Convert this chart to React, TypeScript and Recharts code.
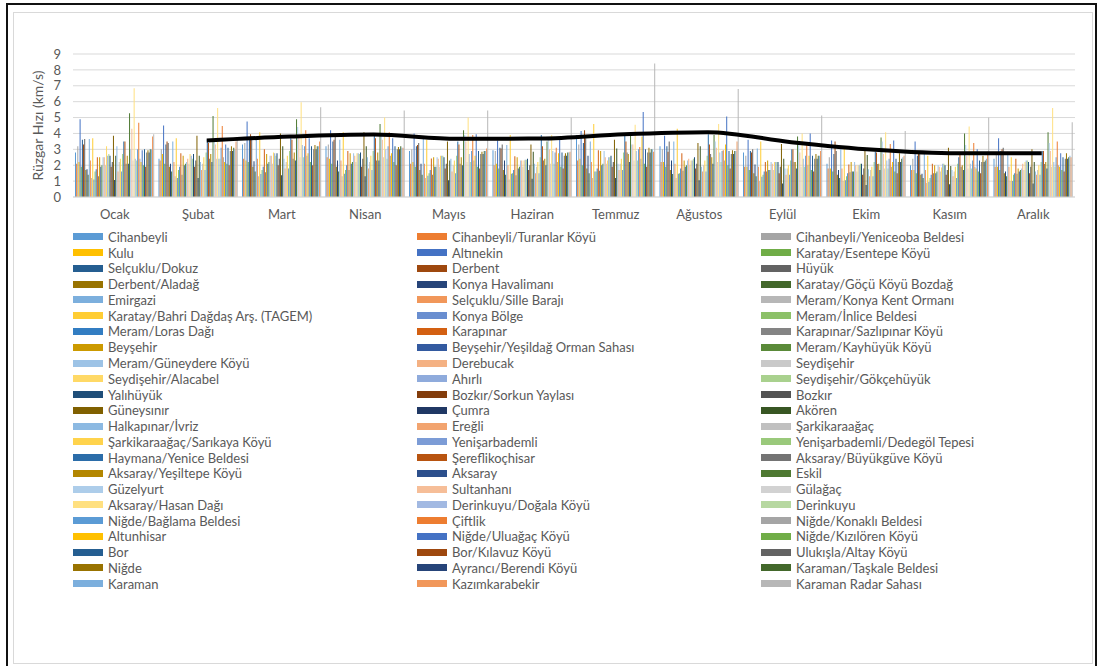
import { ComposedChart, Bar, Line, XAxis, YAxis, CartesianGrid, Legend, Label } from "recharts";

const FONT = "Lato, 'Open Sans', sans-serif";
const TEXT = "#595959";

const months = ["Ocak", "Şubat", "Mart", "Nisan", "Mayıs", "Haziran", "Temmuz", "Ağustos", "Eylül", "Ekim", "Kasım", "Aralık"];
const yTicks = [0, 1, 2, 3, 4, 5, 6, 7, 8, 9];

// station order = legend order (row by row, three per row)
const stations = [
  "Cihanbeyli", "Cihanbeyli/Turanlar Köyü", "Cihanbeyli/Yeniceoba Beldesi",
  "Kulu", "Altınekin", "Karatay/Esentepe Köyü",
  "Selçuklu/Dokuz", "Derbent", "Hüyük",
  "Derbent/Aladağ", "Konya Havalimanı", "Karatay/Göçü Köyü Bozdağ",
  "Emirgazi", "Selçuklu/Sille Barajı", "Meram/Konya Kent Ormanı",
  "Karatay/Bahri Dağdaş Arş. (TAGEM)", "Konya Bölge", "Meram/İnlice Beldesi",
  "Meram/Loras Dağı", "Karapınar", "Karapınar/Sazlıpınar Köyü",
  "Beyşehir", "Beyşehir/Yeşildağ Orman Sahası", "Meram/Kayhüyük Köyü",
  "Meram/Güneydere Köyü", "Derebucak", "Seydişehir",
  "Seydişehir/Alacabel", "Ahırlı", "Seydişehir/Gökçehüyük",
  "Yalıhüyük", "Bozkır/Sorkun Yaylası", "Bozkır",
  "Güneysınır", "Çumra", "Akören",
  "Halkapınar/İvriz", "Ereğli", "Şarkikaraağaç",
  "Şarkikaraağaç/Sarıkaya Köyü", "Yenişarbademli", "Yenişarbademli/Dedegöl Tepesi",
  "Haymana/Yenice Beldesi", "Şereflikoçhisar", "Aksaray/Büyükgüve Köyü",
  "Aksaray/Yeşiltepe Köyü", "Aksaray", "Eskil",
  "Güzelyurt", "Sultanhanı", "Gülağaç",
  "Aksaray/Hasan Dağı", "Derinkuyu/Doğala Köyü", "Derinkuyu",
  "Niğde/Bağlama Beldesi", "Çiftlik", "Niğde/Konaklı Beldesi",
  "Altunhisar", "Niğde/Uluağaç Köyü", "Niğde/Kızılören Köyü",
  "Bor", "Bor/Kılavuz Köyü", "Ulukışla/Altay Köyü",
  "Niğde", "Ayrancı/Berendi Köyü", "Karaman/Taşkale Beldesi",
  "Karaman", "Kazımkarabekir", "Karaman Radar Sahası",
];

// monthly mean wind speed per station (same order as stations)
const ocak = [2.8, 2.1, 3.2, 2.2, 4.9, 1.9, 3.6, 3.3, 3.65, 1.7, 1.75, 1.4, 3.65, 2.3, 1.2, 3.7, 1.1, 1.6, 1.75, 2.5, 1.3, 2.5, 1.9, 2.0, 2.5, 2.5, 2.0, 3.2, 2.6, 2.7, 2.6, 1.9, 2.2, 3.85, 1.07, 2.6, 3.2, 1.6, 2.2, 2.4, 1.6, 2.7, 3.5, 3.5, 2.1, 2.6, 2.1, 5.27, 3.0, 4.3, 2.3, 6.85, 2.4, 2.3, 3.0, 4.68, 2.4, 2.2, 2.95, 2.0, 3.0, 1.9, 2.8, 2.95, 2.8, 3.0, 3.0, 3.8, 3.95];
const subat = [2.4, 2.3, 3.0, 2.7, 4.5, 2.1, 3.3, 3.5, 3.4, 1.9, 2.1, 1.6, 3.5, 2.2, 1.3, 3.7, 1.2, 1.7, 1.9, 2.75, 1.4, 2.6, 2.0, 2.1, 2.2, 2.4, 2.1, 2.7, 2.6, 2.4, 2.7, 1.9, 2.3, 3.85, 1.2, 2.6, 2.2, 1.7, 2.1, 2.5, 1.7, 2.8, 3.6, 3.4, 2.4, 2.7, 2.2, 5.1, 3.5, 3.3, 2.4, 5.6, 2.4, 2.4, 3.1, 4.47, 2.5, 2.2, 3.3, 2.1, 3.1, 2.0, 2.9, 3.2, 2.9, 3.1, 3.0, 3.5, 3.6];
const mart = [3.3, 2.4, 3.4, 2.3, 4.75, 2.2, 3.6, 3.95, 3.8, 1.9, 2.25, 1.6, 3.7, 2.4, 1.3, 4.07, 1.45, 1.7, 1.9, 3.0, 1.55, 2.7, 2.1, 2.2, 2.6, 2.6, 2.1, 2.8, 2.75, 2.6, 2.75, 2.0, 2.4, 4.0, 1.37, 3.2, 2.4, 1.8, 2.2, 2.6, 1.8, 2.9, 3.7, 3.6, 2.4, 2.8, 2.3, 4.9, 4.4, 3.8, 2.5, 5.97, 3.27, 2.5, 3.2, 4.2, 2.6, 2.75, 3.7, 2.2, 3.2, 2.0, 3.0, 3.27, 3.0, 3.2, 3.2, 3.5, 5.65];
const nisan = [3.2, 2.5, 3.3, 2.4, 4.2, 2.1, 3.5, 3.6, 3.8, 1.9, 2.3, 1.6, 3.6, 2.3, 1.3, 4.07, 1.47, 1.7, 2.0, 2.9, 1.7, 2.75, 2.1, 2.2, 2.75, 2.6, 2.2, 2.75, 2.75, 2.7, 2.8, 1.9, 2.4, 4.07, 1.3, 3.2, 2.5, 1.8, 2.2, 2.6, 1.7, 2.9, 4.0, 3.7, 2.3, 2.8, 2.3, 4.6, 3.9, 3.6, 2.5, 5.0, 3.0, 2.4, 3.2, 4.07, 2.6, 2.75, 3.7, 2.2, 3.2, 2.0, 3.0, 3.15, 3.0, 3.2, 3.1, 3.1, 5.45];
const mayis = [2.9, 2.1, 3.0, 2.2, 4.0, 1.9, 3.2, 3.27, 3.4, 1.7, 2.1, 1.4, 3.7, 2.1, 1.2, 3.6, 1.33, 1.5, 1.7, 2.43, 1.4, 2.5, 1.9, 1.9, 2.5, 2.4, 1.9, 2.6, 2.6, 2.6, 2.5, 1.8, 2.1, 3.5, 1.05, 2.3, 2.4, 1.6, 2.0, 2.3, 1.5, 2.6, 3.5, 3.3, 2.1, 2.5, 2.0, 4.2, 3.9, 3.5, 2.2, 5.0, 2.7, 2.2, 2.9, 3.9, 2.3, 2.6, 3.95, 1.9, 2.9, 1.8, 2.7, 2.85, 2.7, 2.9, 2.9, 3.05, 5.45];
const haziran = [2.95, 2.0, 2.9, 2.1, 3.55, 1.8, 3.1, 3.05, 3.3, 1.7, 2.3, 1.4, 3.27, 2.0, 1.1, 3.9, 1.47, 1.5, 1.7, 2.57, 1.37, 2.5, 1.8, 1.9, 2.3, 2.3, 1.9, 2.3, 2.35, 2.35, 2.4, 1.7, 2.0, 3.3, 1.15, 2.85, 2.1, 1.5, 1.9, 2.2, 1.5, 2.5, 3.9, 3.2, 2.3, 2.4, 2.0, 3.5, 3.7, 3.0, 2.1, 3.9, 2.9, 2.1, 2.8, 3.1, 2.2, 2.75, 3.65, 1.9, 2.8, 1.8, 2.6, 2.75, 2.6, 2.8, 2.8, 2.85, 5.0];
const temmuz = [3.9, 2.3, 3.3, 2.4, 4.15, 2.0, 3.4, 4.2, 3.7, 1.8, 2.6, 1.5, 3.5, 2.2, 1.2, 4.6, 1.6, 1.6, 1.8, 2.95, 1.65, 2.9, 2.0, 2.1, 2.9, 2.5, 2.1, 2.3, 2.5, 2.5, 2.6, 1.9, 2.2, 3.6, 1.2, 3.05, 2.1, 1.7, 2.1, 2.4, 1.7, 2.8, 3.95, 3.5, 2.8, 2.7, 2.2, 3.86, 3.3, 3.3, 2.3, 4.55, 2.9, 2.3, 3.0, 3.15, 2.4, 3.8, 5.35, 2.1, 3.0, 1.9, 2.8, 3.1, 2.8, 3.0, 3.0, 2.85, 8.4];
const agustos = [3.2, 2.2, 3.0, 2.2, 3.86, 1.9, 3.2, 2.85, 3.5, 1.7, 2.3, 1.45, 3.5, 2.1, 1.2, 4.3, 1.47, 1.5, 1.8, 2.75, 1.65, 2.3, 1.9, 2.0, 2.3, 2.4, 2.0, 2.3, 2.3, 2.4, 2.5, 1.8, 2.1, 3.4, 1.05, 3.2, 1.9, 1.6, 2.0, 2.3, 1.6, 2.6, 3.95, 3.3, 2.7, 2.5, 2.1, 3.9, 3.5, 3.1, 2.2, 4.6, 2.8, 2.2, 2.9, 2.95, 2.3, 3.3, 5.06, 2.0, 2.9, 1.8, 2.7, 2.95, 2.7, 2.9, 2.9, 3.5, 6.8];
const eylul = [2.8, 1.9, 2.6, 1.9, 3.6, 1.7, 2.9, 2.8, 3.0, 1.5, 2.05, 1.3, 3.05, 1.9, 1.0, 3.5, 1.27, 1.4, 1.6, 2.2, 1.6, 2.3, 1.7, 1.7, 2.2, 2.1, 1.7, 2.2, 2.2, 2.2, 2.2, 1.5, 1.9, 3.33, 0.85, 2.4, 1.8, 1.4, 1.8, 2.0, 1.4, 2.3, 3.0, 3.0, 2.2, 2.2, 1.8, 3.8, 3.27, 2.8, 1.9, 4.0, 2.4, 1.9, 2.6, 3.27, 2.0, 2.6, 4.0, 1.7, 2.6, 1.6, 2.4, 2.7, 2.4, 2.6, 2.6, 2.9, 5.13];
const ekim = [2.1, 1.8, 2.5, 1.8, 3.55, 1.6, 2.7, 3.5, 2.9, 1.4, 1.7, 1.2, 3.0, 1.8, 1.0, 3.05, 1.05, 1.3, 1.5, 2.05, 1.55, 2.2, 1.6, 1.6, 2.2, 2.0, 1.6, 2.0, 2.0, 2.1, 2.1, 1.4, 1.8, 2.9, 0.75, 2.65, 1.75, 1.3, 1.7, 1.9, 1.3, 2.2, 2.85, 2.8, 2.07, 2.1, 1.7, 3.75, 3.5, 2.7, 1.8, 4.07, 2.3, 1.8, 2.4, 3.33, 1.9, 2.2, 3.55, 1.6, 2.4, 1.5, 2.2, 2.75, 2.2, 2.4, 2.5, 2.6, 4.15];
const kasim = [2.0, 1.7, 2.4, 1.7, 3.5, 1.5, 2.6, 2.7, 2.8, 1.4, 1.47, 1.2, 2.7, 1.7, 0.9, 2.6, 0.95, 1.2, 1.4, 2.1, 1.5, 2.0, 1.5, 1.6, 2.0, 1.9, 1.6, 1.85, 2.1, 2.1, 2.0, 1.4, 1.7, 3.1, 0.8, 1.95, 1.7, 1.3, 1.6, 1.9, 1.2, 2.1, 2.5, 2.7, 1.9, 2.0, 1.7, 4.0, 3.27, 2.6, 1.8, 4.43, 2.1, 1.8, 2.3, 3.4, 1.9, 1.8, 3.0, 1.6, 2.3, 1.5, 2.2, 2.6, 2.2, 2.3, 2.4, 2.85, 5.0];
const aralik = [2.4, 1.9, 2.7, 1.9, 3.7, 1.7, 2.9, 3.0, 3.1, 1.5, 1.6, 1.3, 2.85, 1.9, 1.0, 2.5, 1.0, 1.4, 1.5, 2.4, 1.47, 1.8, 1.6, 1.7, 1.8, 2.1, 1.7, 2.2, 2.3, 2.3, 2.2, 1.5, 1.9, 3.0, 0.85, 2.2, 1.6, 1.4, 1.7, 2.0, 1.4, 2.2, 2.9, 2.9, 2.07, 2.2, 1.8, 4.07, 3.4, 2.9, 1.9, 5.6, 2.2, 1.9, 2.5, 3.5, 2.0, 1.9, 2.75, 1.7, 2.5, 1.6, 2.4, 2.75, 2.4, 2.5, 2.6, 2.5, 4.7];

// regional mean line (no value for January)
const ortalama = [null, 3.55, 3.8, 3.93, 3.66, 3.68, 3.95, 4.08, 3.45, 2.97, 2.75, 2.75];

const monthValues = [ocak, subat, mart, nisan, mayis, haziran, temmuz, agustos, eylul, ekim, kasim, aralik];

// Office palette: six base colours, then the usual lum mod / lum off variations
const baseColors = ["#5B9BD5", "#ED7D31", "#A5A5A5", "#FFC000", "#4472C4", "#70AD47"];
const variations: [number, number][] = [
  [1, 0], [0.6, 0], [0.8, 0.2], [0.8, 0], [0.6, 0.4], [0.5, 0], [0.7, 0.3], [0.7, 0], [0.5, 0.5],
];

function shade(hex: string, mod: number, off: number) {
  const r = parseInt(hex.slice(1, 3), 16) / 255;
  const g = parseInt(hex.slice(3, 5), 16) / 255;
  const b = parseInt(hex.slice(5, 7), 16) / 255;
  const max = Math.max(r, g, b);
  const min = Math.min(r, g, b);
  const l = (max + min) / 2;
  let h = 0;
  let s = 0;
  if (max !== min) {
    const d = max - min;
    s = l > 0.5 ? d / (2 - max - min) : d / (max + min);
    if (max === r) h = (g - b) / d + (g < b ? 6 : 0);
    else if (max === g) h = (b - r) / d + 2;
    else h = (r - g) / d + 4;
    h /= 6;
  }
  const nl = Math.min(1, l * mod + off);
  return `hsl(${(h * 360).toFixed(1)}, ${(s * 100).toFixed(1)}%, ${(nl * 100).toFixed(1)}%)`;
}

const colors = stations.map((_, i) => {
  const [mod, off] = variations[Math.floor(i / 6) % variations.length];
  return shade(baseColors[i % 6], mod, off);
});

const data = months.map((month, m) => {
  const row: Record<string, string | number | null> = { month, ortalama: ortalama[m] };
  stations.forEach((_, i) => {
    row[`s${i}`] = monthValues[m][i];
  });
  return row;
});

const renderLegend = () => (
  <div
    style={{
      display: "grid",
      gridTemplateColumns: "344px 344px 300px",
      gridAutoRows: "15.78px",
      fontFamily: FONT,
      fontSize: 13,
      color: TEXT,
    }}
  >
    {stations.map((name, i) => (
      <div key={name} style={{ display: "flex", alignItems: "center", whiteSpace: "nowrap" }}>
        <span style={{ width: 30, height: 7, background: colors[i], marginRight: 5, flex: "none" }} />
        {name}
      </div>
    ))}
  </div>
);

export default function App() {
  return (
    <div
      style={{
        position: "absolute",
        left: 0,
        top: 0,
        width: 1100,
        height: 666,
        overflow: "hidden",
        background: "#fff",
      }}
    >
      <div
        style={{
          position: "absolute",
          left: 6,
          top: 3,
          width: 1091,
          height: 700,
          border: "2px solid #111",
          boxSizing: "border-box",
        }}
      />
      <div
        style={{
          position: "absolute",
          left: 13,
          top: 12,
          width: 1080,
          height: 652,
          border: "1px solid #D9D9D9",
          boxSizing: "border-box",
        }}
      />
      <div style={{ position: "absolute", left: 0, top: 0 }}>
        <ComposedChart
          width={1100}
          height={666}
          data={data}
          margin={{ top: 54, right: 25, bottom: 74, left: 13 }}
          barSize={1}
          barGap={0.15}
        >
          <CartesianGrid vertical={false} stroke="#D9D9D9" />
          <XAxis
            dataKey="month"
            height={32}
            tickLine={false}
            axisLine={{ stroke: "#D9D9D9" }}
            tickMargin={7}
            interval={0}
            tick={{ fontSize: 13, fill: TEXT, fontFamily: FONT }}
          />
          <XAxis xAxisId="avg" dataKey="month" hide padding={{ left: 8.5, right: -8.5 }} />
          <YAxis
            domain={[0, 9]}
            ticks={yTicks}
            interval={0}
            width={60}
            tickLine={false}
            axisLine={false}
            tickMargin={6}
            tick={{ fontSize: 13, fill: TEXT, fontFamily: FONT }}
          >
            <Label
              value="Rüzgar Hızı (km/s)"
              angle={-90}
              position="insideLeft"
              offset={25}
              style={{ textAnchor: "middle", fontSize: 14, fill: TEXT, fontFamily: FONT }}
            />
          </YAxis>
          <Legend
            verticalAlign="bottom"
            content={renderLegend}
            wrapperStyle={{ left: 73, width: 990, height: 363 }}
          />
          {stations.map((name, i) => (
            <Bar key={name} dataKey={`s${i}`} name={name} fill={colors[i]} isAnimationActive={false} />
          ))}
          <Line
            xAxisId="avg"
            type="monotone"
            dataKey="ortalama"
            name="Ortalama"
            stroke="#000"
            strokeWidth={4}
            dot={false}
            activeDot={false}
            isAnimationActive={false}
          />
        </ComposedChart>
      </div>
    </div>
  );
}
